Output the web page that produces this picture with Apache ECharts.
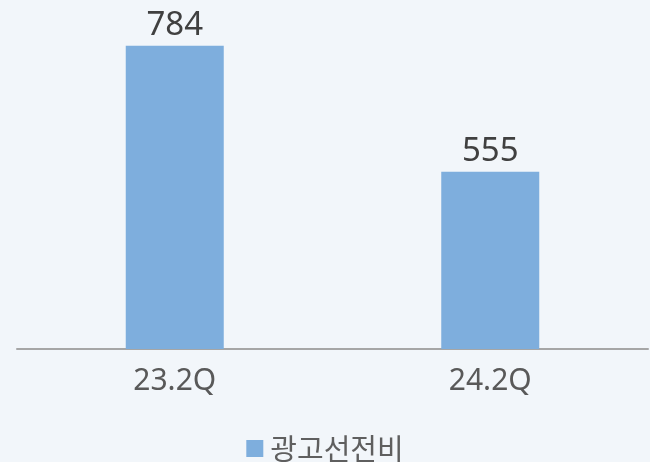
<!DOCTYPE html>
<html>
<head>
<meta charset="utf-8">
<script src="https://cdn.jsdelivr.net/npm/echarts@6/dist/echarts.min.js"></script>
<style>
  html, body { margin: 0; padding: 0; background: #f2f6fa; }
  #chart { width: 650px; height: 462px; }
</style>
</head>
<body>
<div id="chart"></div>
<script>
// 데이터
const categories = ['23.2Q', '24.2Q'];
const seriesName = '광고선전비';
const values = [784, 555];

const chart = echarts.init(document.getElementById('chart'));

const option = {
  backgroundColor: '#f2f6fa',
  animation: false,
  grid: { left: 17, right: 2, top: 20, bottom: 113 },
  legend: {
    data: [seriesName],
    left: 'center',
    top: 429,
    icon: 'rect',
    itemWidth: 17,
    itemHeight: 17,
    textStyle: {
      fontFamily: '"Noto Sans CJK KR", "Noto Sans", sans-serif',
      fontSize: 29,
      color: '#5f5f5f',
      padding: [0, 0, 0, 2]
    }
  },
  xAxis: {
    type: 'category',
    data: categories,
    axisLine: { lineStyle: { color: '#a6a6a6', width: 2 } },
    axisTick: { show: false },
    axisLabel: {
      margin: 17,
      fontFamily: '"Noto Sans", sans-serif',
      fontSize: 30,
      color: '#595959'
    }
  },
  yAxis: {
    type: 'value',
    min: 233,
    max: 831,
    show: false
  },
  series: [
    {
      name: seriesName,
      type: 'bar',
      data: values,
      barWidth: 98,
      itemStyle: { color: '#7eaedd' },
      label: {
        show: true,
        position: 'top',
        distance: 4,
        fontFamily: '"Noto Sans", sans-serif',
        fontSize: 33,
        color: '#404040'
      }
    }
  ]
};

chart.setOption(option);
</script>
</body>
</html>
